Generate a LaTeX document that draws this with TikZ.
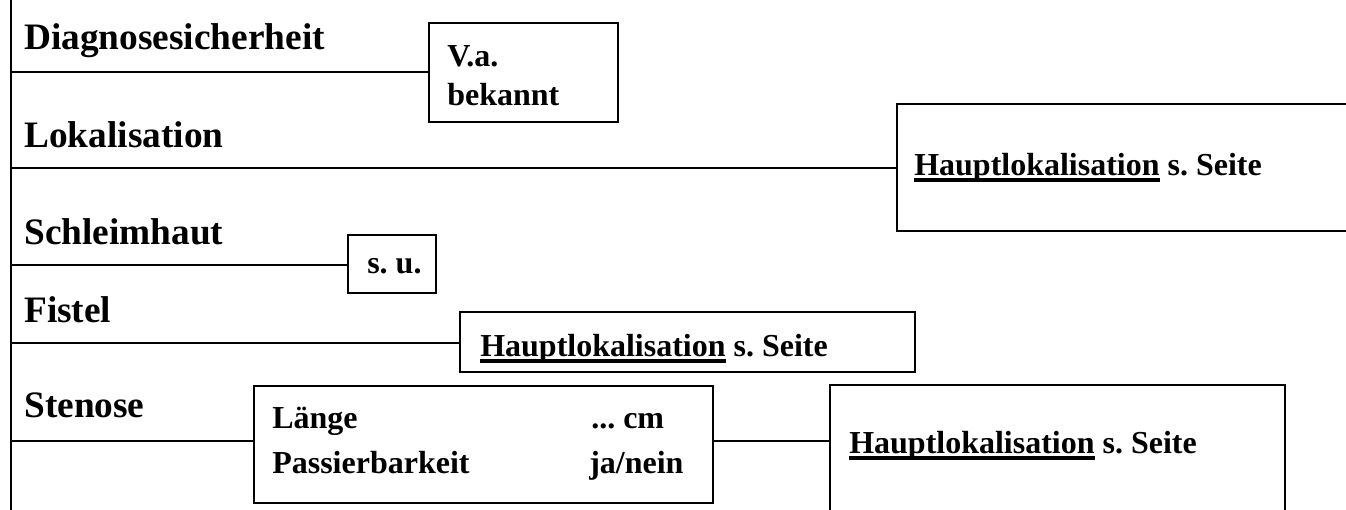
\documentclass[tikz,border=0pt]{standalone}
\usepackage{fontspec}
\setmainfont{Liberation Serif}
\usetikzlibrary{fit}
\frenchspacing
\newsavebox{\ulbox}
\newcommand{\hlunder}[1]{\sbox{\ulbox}{#1}\rlap{\rule[-5pt]{\wd\ulbox}{2.5pt}}\usebox{\ulbox}}
\tikzset{
  rowlabel/.style={anchor=base west, inner sep=0pt, font=\bfseries\fontsize{28}{33}\selectfont},
  boxtext/.style={anchor=base west, inner sep=0pt, font=\bfseries\fontsize{24}{29}\selectfont},
  frame/.style={draw, inner sep=0pt, line width=2pt},
  link/.style={line width=2pt}
}
\begin{document}
\begin{tikzpicture}[x=0.75pt, y=-0.75pt]
\clip (0,0) rectangle (1346,510);
\fill[white] (0,0) rectangle (1346,510);
% spine
\coordinate (top) at (11,0);
\coordinate (bottom) at (11,510);
\draw[link] (top) -- (bottom);
\coordinate (s1) at (11,72);
\coordinate (s2) at (11,168);
\coordinate (s3) at (11,265);
\coordinate (s4) at (11,343);
\coordinate (s5) at (11,441);
% row labels
\node[rowlabel] (diag) at (24,50) {Diagnosesicherheit};
\node[rowlabel] (lok) at (24,147) {Lokalisation};
\node[rowlabel] (schl) at (24,244) {Schleimhaut};
\node[rowlabel] (fist) at (24,322) {Fistel};
\node[rowlabel] (sten) at (24,417) {Stenose};
% boxes
\node[frame, fit={(429,23) (618,122)}] (va) {};
\node[boxtext] (vatext) at (447,67) {V.a.};
\node[boxtext] (bektext) at (447,105) {bekannt};
\node[frame, fit={(897,104) (1360,231)}] (lokbox) {};
\node[boxtext] (loktext) at (914,175) {\hlunder{Hauptlokalisation} s. Seite};
\node[frame, fit={(348,235) (436,293)}] (su) {};
\node[boxtext] (sutext) at (367,273) {s. u.};
\node[frame, fit={(460,312) (915,372)}] (fistbox) {};
\node[boxtext] (fisttext) at (480,356) {\hlunder{Hauptlokalisation} s. Seite};
\node[frame, fit={(254,386) (713,503)}] (stenbox) {};
\node[boxtext] (laenge) at (272,428) {Länge};
\node[boxtext] (cm) at (591,428) {... cm};
\node[boxtext] (pass) at (272,473) {Passierbarkeit};
\node[boxtext] (janein) at (589,473) {ja/nein};
\node[frame, fit={(830,385) (1285,525)}] (stenlok) {};
\node[boxtext] (stenloktext) at (849,453) {\hlunder{Hauptlokalisation} s. Seite};
% connectors
\draw[link] (s1) -- (s1 -| va.west);
\draw[link] (s2) -- (s2 -| lokbox.west);
\draw[link] (s3) -- (s3 -| su.west);
\draw[link] (s4) -- (s4 -| fistbox.west);
\draw[link] (s5) -- (s5 -| stenbox.west);
\draw[link] (s5 -| stenbox.east) -- (s5 -| stenlok.west);
\end{tikzpicture}
\end{document}
